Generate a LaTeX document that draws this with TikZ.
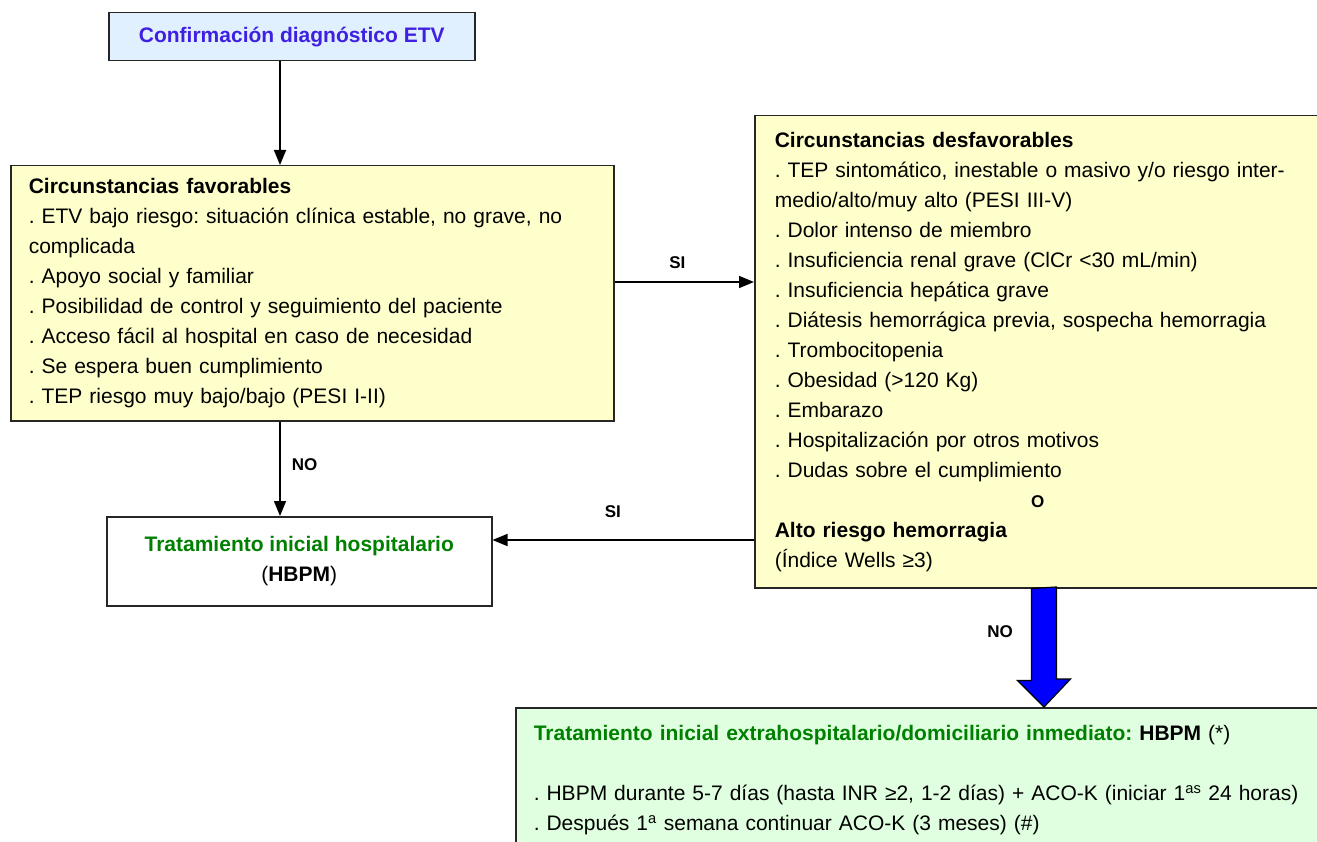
\documentclass[tikz,border=0pt]{standalone}
\usepackage{fontspec}
\setmainfont{Liberation Sans}
\usetikzlibrary{arrows.meta}
\frenchspacing

\definecolor{boxblue}{RGB}{225,240,255}
\definecolor{boxyellow}{RGB}{255,255,204}
\definecolor{boxgreen}{RGB}{224,255,224}
\definecolor{titleblue}{RGB}{64,32,224}
\definecolor{titlegreen}{RGB}{0,128,0}

\begin{document}
\begin{tikzpicture}[x=1pt, y=-1pt,
    box/.style={draw=black!85, line width=1.5pt, anchor=north west, inner xsep=18pt,
        font=\fontsize{21}{30}\selectfont},
    arr/.style={line width=1.5pt, -{Triangle[length=15pt,width=12pt]}},
    lbl/.style={font=\fontsize{17}{20}\selectfont\bfseries, inner sep=0pt},
    bigarrow/.style={draw=black, line width=1.2pt, fill=blue, line join=miter}
]

    \newcommand{\tgreen}[1]{\textcolor{titlegreen}{\bfseries #1}}

    \useasboundingbox (0,0) rectangle (1317,842);
    \clip (-5,-5) rectangle (1340,860);

    \coordinate (xa) at (280,0);
    \coordinate (xb) at (1044,0);
    \coordinate (ya) at (0,282);
    \coordinate (yb) at (0,540);

    \node[box, fill=boxblue, minimum width=366pt, minimum height=48pt,
        font=\fontsize{21}{30}\selectfont\bfseries\color{titleblue}]
        (conf) at (108,12) {Confirmación diagnóstico ETV};

    \node[box, fill=boxyellow, text width=567pt, minimum height=255pt, align=left]
        (favor) at (10,165) {%
        {\bfseries Circunstancias favorables}\\
        . ETV bajo riesgo: situación clínica estable, no grave, no\\
        complicada\\
        . Apoyo social y familiar\\
        . Posibilidad de control y seguimiento del paciente\\
        . Acceso fácil al hospital en caso de necesidad\\
        . Se espera buen cumplimiento\\
        . TEP riesgo muy bajo/bajo (PESI I-II)};

    \node[box, fill=boxyellow, inner xsep=20pt, text width=560pt, minimum height=472pt, align=left]
        (desf) at (754,115) {%
        {\bfseries Circunstancias desfavorables}\\
        . TEP sintomático, inestable o masivo y/o riesgo inter-\\
        medio/alto/muy alto (PESI III-V)\\
        . Dolor intenso de miembro\\
        . Insuficiencia renal grave (ClCr <30 mL/min)\\
        . Insuficiencia hepática grave\\
        . Diátesis hemorrágica previa, sospecha hemorragia\\
        . Trombocitopenia\\
        . Obesidad (>120 Kg)\\
        . Embarazo\\
        . Hospitalización por otros motivos\\
        . Dudas sobre el cumplimiento\\
        \makebox[526pt][c]{\fontsize{17}{30}\selectfont\bfseries O}\\
        {\bfseries Alto riesgo hemorragia}\\
        (Índice Wells ≥3)};

    \node[box, fill=white, minimum width=385pt, minimum height=89pt, align=center]
        (hosp) at (106,516) {\tgreen{Tratamiento inicial hospitalario}\\ (\textbf{HBPM})};

    \node[box, fill=boxgreen, text width=800pt, inner ysep=18pt, align=left]
        (trat) at (515,707) {%
        \tgreen{Tratamiento inicial extrahospitalario/domiciliario inmediato:} \textbf{HBPM} (*)\\[30pt]
        . HBPM durante 5-7 días (hasta INR ≥2, 1-2 días) + ACO-K (iniciar 1\textsuperscript{as} 24 horas)\\
        . Después 1\textsuperscript{a} semana continuar ACO-K (3 meses) (\#)};

    % connectors
    \draw[arr] (conf.south -| xa) -- (favor.north -| xa);
    \draw[arr] (favor.east |- ya) -- node[lbl, pos=0.45, above=13pt] (sia) {SI} (desf.west |- ya);
    \draw[arr] (favor.south -| xa) -- node[lbl, pos=0.46, right=11pt] (noa) {NO} (hosp.north -| xa);
    \draw[arr] (desf.west |- yb) -- node[lbl, pos=0.54, above=22pt] (sib) {SI} (hosp.east |- yb);

    \draw[bigarrow] (desf.south -| xb) ++(-12.5,0) -- ++(0,92) -- ++(-14,0)
        -- (trat.north -| xb) -- ++(26.5,-28) -- ++(-14,0) -- ++(0,-92) -- cycle;
    \node[lbl] (nob) at (1000,632) {NO};

\end{tikzpicture}
\end{document}
